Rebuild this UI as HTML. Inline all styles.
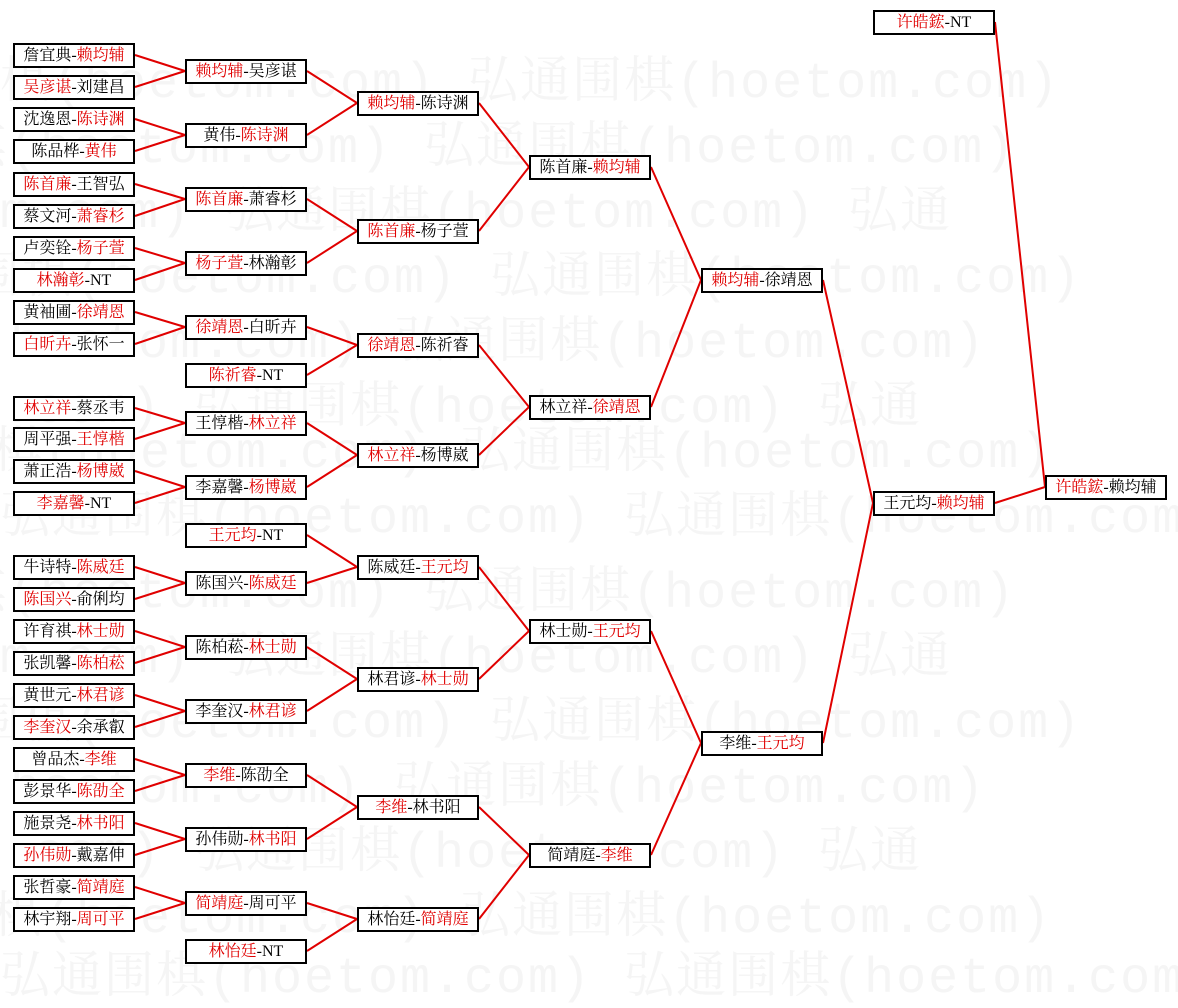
<!DOCTYPE html>
<html><head><meta charset="utf-8"><style>
body{margin:0;width:1178px;height:973px;background:#fff;position:relative;overflow:hidden;font-family:"Liberation Serif","Noto Serif CJK SC",serif;}
.wm{position:absolute;left:0;font-size:50px;color:#f5f5f5;white-space:nowrap;letter-spacing:2px;font-family:"Liberation Mono","Noto Serif CJK SC",monospace;}
.b{position:absolute;width:122px;height:25px;box-sizing:border-box;border:2px solid #000;background:#fff;font-size:16px;line-height:21px;text-align:center;color:#000;white-space:nowrap;}
.r{color:#e00000}
svg{position:absolute;left:0;top:0}
</style></head><body>
<div class="wm" style="top:40px;left:0">棋(hoetom.com) 弘通围棋(hoetom.com)</div>
<div class="wm" style="top:105px;left:-200px">弘通围棋(hoetom.com) 弘通围棋(hoetom.com)</div>
<div class="wm" style="top:170px;left:-400px">弘通围棋(hoetom.com) 弘通围棋(hoetom.com) 弘通</div>
<div class="wm" style="top:235px;left:-30px">围棋(hoetom.com) 弘通围棋(hoetom.com)</div>
<div class="wm" style="top:300px;left:-230px">弘通围棋(hoetom.com) 弘通围棋(hoetom.com)</div>
<div class="wm" style="top:365px;left:-430px">弘通围棋(hoetom.com) 弘通围棋(hoetom.com) 弘通</div>
<div class="wm" style="top:410px;left:-60px">围棋(hoetom.com) 弘通围棋(hoetom.com)</div>
<div class="wm" style="top:475px;left:0">弘通围棋(hoetom.com) 弘通围棋(hoetom.com)</div>
<div class="wm" style="top:550px;left:-200px">弘通围棋(hoetom.com) 弘通围棋(hoetom.com)</div>
<div class="wm" style="top:615px;left:-400px">弘通围棋(hoetom.com) 弘通围棋(hoetom.com) 弘通</div>
<div class="wm" style="top:680px;left:-30px">围棋(hoetom.com) 弘通围棋(hoetom.com)</div>
<div class="wm" style="top:745px;left:-230px">弘通围棋(hoetom.com) 弘通围棋(hoetom.com)</div>
<div class="wm" style="top:810px;left:-430px">弘通围棋(hoetom.com) 弘通围棋(hoetom.com) 弘通</div>
<div class="wm" style="top:875px;left:-60px">围棋(hoetom.com) 弘通围棋(hoetom.com)</div>
<div class="wm" style="top:935px;left:0">弘通围棋(hoetom.com) 弘通围棋(hoetom.com)</div>
<svg width="1178" height="973" stroke="#e00000" stroke-width="2" fill="none">
<path d="M135 55L185 71M135 87L185 71M135 119L185 135M135 151L185 135M135 184L185 199M135 216L185 199M135 248L185 263M135 280L185 263M135 312L185 327M135 344L185 327M135 408L185 423M135 439L185 423M135 471L185 487M135 503L185 487M135 567L185 583M135 599L185 583M135 631L185 647M135 663L185 647M135 695L185 711M135 727L185 711M135 759L185 775M135 791L185 775M135 823L185 839M135 855L185 839M135 887L185 903M135 919L185 903"/>
<path d="M307 71L357 103M307 135L357 103M307 199L357 231M307 263L357 231M307 327L357 345M307 375L357 345M307 423L357 455M307 487L357 455M307 535L357 567M307 583L357 567M307 647L357 679M307 711L357 679M307 775L357 807M307 839L357 807M307 903L357 919M307 951L357 919"/>
<path d="M479 103L529 167M479 231L529 167M479 345L529 407M479 455L529 407M479 567L529 631M479 679L529 631M479 807L529 855M479 919L529 855"/>
<path d="M651 167L701 280M651 407L701 280M651 631L701 743M651 855L701 743M823 280L873 503M823 743L873 503M995 503L1045 487M995 22L1045 487"/>
</svg>
<div class="b" style="left:13px;top:43px">詹宜典-<span class="r">赖均辅</span></div>
<div class="b" style="left:13px;top:75px"><span class="r">吴彦谌</span>-刘建昌</div>
<div class="b" style="left:13px;top:107px">沈逸恩-<span class="r">陈诗渊</span></div>
<div class="b" style="left:13px;top:139px">陈品桦-<span class="r">黄伟</span></div>
<div class="b" style="left:13px;top:172px"><span class="r">陈首廉</span>-王智弘</div>
<div class="b" style="left:13px;top:204px">蔡文河-<span class="r">萧睿杉</span></div>
<div class="b" style="left:13px;top:236px">卢奕铨-<span class="r">杨子萱</span></div>
<div class="b" style="left:13px;top:268px"><span class="r">林瀚彰</span>-NT</div>
<div class="b" style="left:13px;top:300px">黄袖圃-<span class="r">徐靖恩</span></div>
<div class="b" style="left:13px;top:332px"><span class="r">白昕卉</span>-张怀一</div>
<div class="b" style="left:13px;top:396px"><span class="r">林立祥</span>-蔡丞韦</div>
<div class="b" style="left:13px;top:427px">周平强-<span class="r">王惇楷</span></div>
<div class="b" style="left:13px;top:459px">萧正浩-<span class="r">杨博崴</span></div>
<div class="b" style="left:13px;top:491px"><span class="r">李嘉馨</span>-NT</div>
<div class="b" style="left:13px;top:555px">牛诗特-<span class="r">陈威廷</span></div>
<div class="b" style="left:13px;top:587px"><span class="r">陈国兴</span>-俞俐均</div>
<div class="b" style="left:13px;top:619px">许育祺-<span class="r">林士勋</span></div>
<div class="b" style="left:13px;top:651px">张凯馨-<span class="r">陈柏菘</span></div>
<div class="b" style="left:13px;top:683px">黄世元-<span class="r">林君谚</span></div>
<div class="b" style="left:13px;top:715px"><span class="r">李奎汉</span>-余承叡</div>
<div class="b" style="left:13px;top:747px">曾品杰-<span class="r">李维</span></div>
<div class="b" style="left:13px;top:779px">彭景华-<span class="r">陈劭全</span></div>
<div class="b" style="left:13px;top:811px">施景尧-<span class="r">林书阳</span></div>
<div class="b" style="left:13px;top:843px"><span class="r">孙伟勋</span>-戴嘉伸</div>
<div class="b" style="left:13px;top:875px">张哲豪-<span class="r">简靖庭</span></div>
<div class="b" style="left:13px;top:907px">林宇翔-<span class="r">周可平</span></div>
<div class="b" style="left:185px;top:59px"><span class="r">赖均辅</span>-吴彦谌</div>
<div class="b" style="left:185px;top:123px">黄伟-<span class="r">陈诗渊</span></div>
<div class="b" style="left:185px;top:187px"><span class="r">陈首廉</span>-萧睿杉</div>
<div class="b" style="left:185px;top:251px"><span class="r">杨子萱</span>-林瀚彰</div>
<div class="b" style="left:185px;top:315px"><span class="r">徐靖恩</span>-白昕卉</div>
<div class="b" style="left:185px;top:363px"><span class="r">陈祈睿</span>-NT</div>
<div class="b" style="left:185px;top:411px">王惇楷-<span class="r">林立祥</span></div>
<div class="b" style="left:185px;top:475px">李嘉馨-<span class="r">杨博崴</span></div>
<div class="b" style="left:185px;top:523px"><span class="r">王元均</span>-NT</div>
<div class="b" style="left:185px;top:571px">陈国兴-<span class="r">陈威廷</span></div>
<div class="b" style="left:185px;top:635px">陈柏菘-<span class="r">林士勋</span></div>
<div class="b" style="left:185px;top:699px">李奎汉-<span class="r">林君谚</span></div>
<div class="b" style="left:185px;top:763px"><span class="r">李维</span>-陈劭全</div>
<div class="b" style="left:185px;top:827px">孙伟勋-<span class="r">林书阳</span></div>
<div class="b" style="left:185px;top:891px"><span class="r">简靖庭</span>-周可平</div>
<div class="b" style="left:185px;top:939px"><span class="r">林怡廷</span>-NT</div>
<div class="b" style="left:357px;top:91px"><span class="r">赖均辅</span>-陈诗渊</div>
<div class="b" style="left:357px;top:219px"><span class="r">陈首廉</span>-杨子萱</div>
<div class="b" style="left:357px;top:333px"><span class="r">徐靖恩</span>-陈祈睿</div>
<div class="b" style="left:357px;top:443px"><span class="r">林立祥</span>-杨博崴</div>
<div class="b" style="left:357px;top:555px">陈威廷-<span class="r">王元均</span></div>
<div class="b" style="left:357px;top:667px">林君谚-<span class="r">林士勋</span></div>
<div class="b" style="left:357px;top:795px"><span class="r">李维</span>-林书阳</div>
<div class="b" style="left:357px;top:907px">林怡廷-<span class="r">简靖庭</span></div>
<div class="b" style="left:529px;top:155px">陈首廉-<span class="r">赖均辅</span></div>
<div class="b" style="left:529px;top:395px">林立祥-<span class="r">徐靖恩</span></div>
<div class="b" style="left:529px;top:619px">林士勋-<span class="r">王元均</span></div>
<div class="b" style="left:529px;top:843px">简靖庭-<span class="r">李维</span></div>
<div class="b" style="left:701px;top:268px"><span class="r">赖均辅</span>-徐靖恩</div>
<div class="b" style="left:701px;top:731px">李维-<span class="r">王元均</span></div>
<div class="b" style="left:873px;top:10px"><span class="r">许皓鋐</span>-NT</div>
<div class="b" style="left:873px;top:491px">王元均-<span class="r">赖均辅</span></div>
<div class="b" style="left:1045px;top:475px"><span class="r">许皓鋐</span>-赖均辅</div>
</body></html>
